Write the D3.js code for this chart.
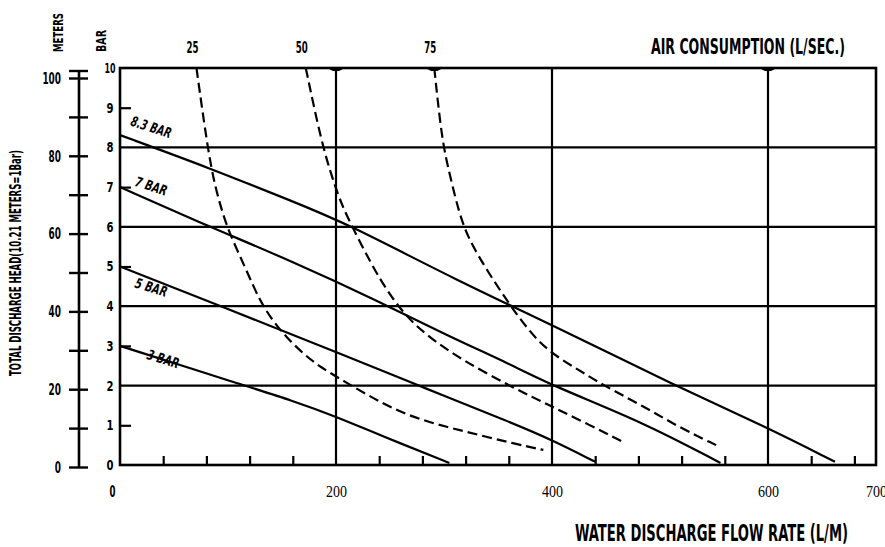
<!DOCTYPE html>
<html>
<head>
<meta charset="utf-8">
<script src="https://cdn.jsdelivr.net/npm/d3@7"></script>
<style>
  body { margin: 0; background: #fff; }
  text { font-family: "DejaVu Sans Condensed", "Liberation Sans Narrow", sans-serif; font-weight: bold; fill: #000; }
  .serif { font-family: "Liberation Serif", serif; font-weight: normal; }
</style>
</head>
<body>
<div id="pump-curve"></div>
<script>
// Pump performance curve: water flow vs discharge head, with air consumption curves

// ---- data ----
// flow rate (L/M), head (bar)
const line83 = [[0, 8.31], [83, 7.48], [157, 6.67], [209, 6.10], [311, 4.66], [400, 3.53], [517, 1.96], [598, 0.96], [662, 0.08]];
const line7  = [[0, 7.0], [83, 6.0], [157, 5.16], [240, 4.12], [302, 3.27], [363, 2.52], [400, 2.0], [486, 1.06], [556, 0.05]];
const line5  = [[0, 5.0], [95, 3.98], [212, 2.72], [280, 1.96], [363, 1.06], [400, 0.63], [440, 0.08]];
const line3  = [[0, 3.0], [113, 2.02], [160, 1.62], [200, 1.22], [240, 0.76], [305, 0.05]];

const air25 = [[70.8, 10], [81, 8.0], [88, 7.0], [97, 6.17], [103, 5.74], [117, 4.91], [129, 4.16], [141, 3.65], [154, 3.22], [169, 2.82], [185, 2.47], [210, 2.07], [240, 1.59], [270, 1.21], [302, 0.96], [332, 0.76], [363, 0.55], [392, 0.38]];
const air50 = [[172, 10], [186, 8.19], [197, 7.18], [206, 6.51], [215, 6.0], [234, 4.99], [249, 4.32], [265, 3.74], [286, 3.22], [317, 2.64], [363, 1.96], [397, 1.51], [431, 1.06], [468, 0.55]];
const air75 = [[291, 10], [298, 8.19], [305, 7.35], [314, 6.34], [323, 5.67], [341.5, 4.83], [360, 4.07], [378, 3.40], [397, 2.85], [425, 2.39], [448, 2.0], [486, 1.46], [517, 0.96], [552, 0.50]];

const pressureLabels = ["8.3 BAR", "7 BAR", "5 BAR", "3 BAR"];
const airLabels = ["25", "50", "75"];
const barTicks = [0, 1, 2, 3, 4, 5, 6, 7, 8, 9, 10];
const meterLabels = [0, 20, 40, 60, 80, 100];
const meterTicks = [0, 10, 20, 30, 40, 50, 60, 70, 80, 90, 100];
const flowLabels = [0, 200, 400, 600, 700];
const flowTicks = [40, 80, 120, 160, 240, 280, 320, 360, 440, 480, 520, 560, 640, 680];

// ---- layout ----
const margin = {top: 68, right: 9, bottom: 82, left: 120},
    width = 885 - margin.left - margin.right,
    height = 547 - margin.top - margin.bottom;

const root = d3.select("#pump-curve")
    .append("svg")
        .attr("width", 885)
        .attr("height", 547);

const svg = root.append("g")
    .attr("transform", `translate(${margin.left}, ${margin.top})`);

const x = d3.scaleLinear().domain([0, 700]).range([0, width]);
const y = d3.scaleLinear().domain([0, 10]).range([height, 0]);
const yM = d3.scaleLinear().domain([0, 100]).range([height + 2.5, 10.5]);

// grid lines
svg.append("g")
    .selectAll("line")
    .data([200, 400, 600])
    .join("line")
        .attr("x1", d => x(d)).attr("x2", d => x(d))
        .attr("y1", 0).attr("y2", height)
        .attr("stroke", "#000").attr("stroke-width", 2.2);

svg.append("g")
    .selectAll("line")
    .data([2, 4, 6, 8])
    .join("line")
        .attr("x1", 0).attr("x2", width)
        .attr("y1", d => y(d)).attr("y2", d => y(d))
        .attr("stroke", "#000").attr("stroke-width", 2.2);

// frame
svg.append("rect")
    .attr("x", 0).attr("y", 0)
    .attr("width", width).attr("height", height)
    .attr("fill", "none")
    .attr("stroke", "#000")
    .attr("stroke-width", 2.6);

// little wedges on the top edge
svg.append("g")
    .selectAll("path")
    .data([200, 600, air75[0][0]])
    .join("path")
        .attr("d", d => `M${x(d) - 9},0 L${x(d) + 9},0 L${x(d) + 3},3 L${x(d) - 3},3 Z`)
        .attr("fill", "#000");

// bar axis (left)
svg.append("g")
    .call(d3.axisLeft(y).tickValues(barTicks).tickSize(0).tickPadding(10).tickFormat(d3.format("d")))
    .call(g => g.select(".domain").remove())
    .selectAll("text")
        .attr("text-anchor", "middle")
        .attr("x", -10)
        .style("font-family", null)
        .style("font-size", "14px")
        .attr("textLength", d => d >= 10 ? 11 : 7)
        .attr("lengthAdjust", "spacingAndGlyphs");

svg.append("g")
    .call(d3.axisRight(y).tickValues([1, 3, 5, 7, 9]).tickSize(11).tickFormat(""))
    .call(g => g.select(".domain").remove())
    .selectAll("line").attr("stroke-width", 2.2);

// flow axis (bottom) - ticks point up
svg.append("g")
    .attr("transform", `translate(0, ${height})`)
    .call(d3.axisTop(x).tickValues(flowTicks).tickSize(9).tickFormat(""))
    .call(g => g.select(".domain").remove())
    .selectAll("line").attr("stroke-width", 2.2);

svg.append("g")
    .attr("transform", `translate(0, ${height})`)
    .call(d3.axisBottom(x).tickValues(flowLabels).tickSize(0).tickFormat(d3.format("d")))
    .call(g => g.select(".domain").remove())
    .selectAll("text")
        .attr("y", 32)
        .attr("dy", null)
        .attr("class", d => d === 0 ? null : "serif")
        .attr("dx", d => d === 0 ? -8 : 0)
        .style("font-family", null)
        .style("font-size", "16px")
        .attr("textLength", d => d === 0 ? 6 : 21)
        .attr("lengthAdjust", "spacingAndGlyphs");

// meters axis (far left)
const mx = -41;
svg.append("line")
    .attr("x1", mx).attr("x2", mx)
    .attr("y1", yM(0)).attr("y2", 3)
    .attr("stroke", "#000").attr("stroke-width", 2.6);
svg.append("line")
    .attr("x1", mx - 10).attr("x2", mx + 9)
    .attr("y1", 3).attr("y2", 3)
    .attr("stroke", "#000").attr("stroke-width", 2.4);
svg.append("g")
    .selectAll("line")
    .data(meterTicks)
    .join("line")
        .attr("x1", mx - 10).attr("x2", mx + 9)
        .attr("y1", d => yM(d)).attr("y2", d => yM(d))
        .attr("stroke", "#000").attr("stroke-width", 2.4);
svg.append("g")
    .selectAll("text")
    .data(meterLabels)
    .join("text")
        .attr("x", mx - 18)
        .attr("y", d => yM(d))
        .attr("dy", "0.35em")
        .attr("text-anchor", "end")
        .style("font-size", "15px")
        .attr("textLength", d => String(d).length * 6.2)
        .attr("lengthAdjust", "spacingAndGlyphs")
        .text(d => d);

// pressure lines
const line = d3.line()
    .x(d => x(d[0]))
    .y(d => y(d[1]))
    .curve(d3.curveBasis);

svg.append("g")
    .selectAll("path")
    .data([line83, line7, line5, line3])
    .join("path")
        .attr("d", line)
        .attr("fill", "none")
        .attr("stroke", "#000")
        .attr("stroke-width", 2.2);

// air consumption curves
svg.append("g")
    .selectAll("path")
    .data([air25, air50, air75])
    .join("path")
        .attr("d", line)
        .attr("fill", "none")
        .attr("stroke", "#000")
        .attr("stroke-width", 2.2)
        .attr("stroke-dasharray", "10,5");

// pressure labels (position along each line, rotation)
const labelPos = [[29, -8, 18], [29, -1, 18], [29, 21, 17], [40, 13, 17]];
const pressureLines = [line83, line7, line5, line3];
svg.append("g")
    .selectAll("text")
    .data(pressureLabels)
    .join("text")
        .attr("transform", (d, i) => {
            const ln = pressureLines[i];
            const px = x(labelPos[i][0]);
            const py = y(ln[0][1]) + labelPos[i][1];
            return `translate(${px}, ${py}) rotate(${labelPos[i][2]})`;
        })
        .attr("text-anchor", "middle")
        .attr("dy", "0.35em")
        .style("font-size", "14px")
        .style("font-style", "italic")
        .attr("textLength", (d, i) => i === 0 ? 42 : 33)
        .attr("lengthAdjust", "spacingAndGlyphs")
        .text(d => d);

// air labels on top
svg.append("g")
    .selectAll("text")
    .data(airLabels)
    .join("text")
        .attr("x", (d, i) => x([air25, air50, air75][i][0][0]) - 4)
        .attr("y", -15)
        .attr("text-anchor", "middle")
        .style("font-size", "15px")
        .attr("textLength", 12)
        .attr("lengthAdjust", "spacingAndGlyphs")
        .text(d => d);

// titles
root.append("text")
    .attr("x", 651).attr("y", 54)
    .attr("textLength", 194)
    .attr("lengthAdjust", "spacingAndGlyphs")
    .style("font-size", "21px")
    .text("AIR CONSUMPTION (L/SEC.)");

root.append("text")
    .attr("x", 575).attr("y", 541)
    .attr("textLength", 273)
    .attr("lengthAdjust", "spacingAndGlyphs")
    .style("font-size", "23px")
    .text("WATER DISCHARGE FLOW RATE (L/M)");

root.append("text")
    .attr("transform", "translate(21, 376) rotate(-90)")
    .attr("textLength", 226)
    .attr("lengthAdjust", "spacingAndGlyphs")
    .style("font-size", "15px")
    .text("TOTAL DISCHARGE HEAD(10.21 METERS=1Bar)");

root.append("text")
    .attr("transform", "translate(63, 52) rotate(-90)")
    .attr("textLength", 39)
    .attr("lengthAdjust", "spacingAndGlyphs")
    .style("font-size", "14px")
    .text("METERS");

root.append("text")
    .attr("transform", "translate(106, 52) rotate(-90)")
    .attr("textLength", 22)
    .attr("lengthAdjust", "spacingAndGlyphs")
    .style("font-size", "14px")
    .text("BAR");
</script>
</body>
</html>
